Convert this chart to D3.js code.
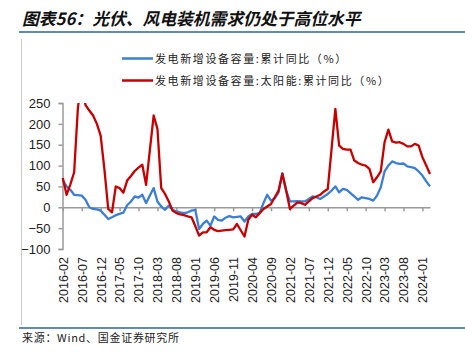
<!DOCTYPE html>
<html><head><meta charset="utf-8">
<script src="https://cdn.jsdelivr.net/npm/d3@7"></script>
<style>body{margin:0;background:#fff;} svg{display:block}</style>
</head><body>
<svg id="c" width="465" height="357"></svg>
<script>
const titleText = "图表56：光伏、风电装机需求仍处于高位水平";
const sourceText = "来源：Wind、国金证券研究所";
const seriesNames = ["发电新增设备容量:累计同比（%）", "发电新增设备容量:太阳能:累计同比（%）"];
const seriesColors = ["#3a7fd5", "#c80000"];
const firstMonth = "2016-02", lastMonth = "2024-03";
const tickLabels = ["2016-02","2016-07","2016-12","2017-05","2017-10","2018-03","2018-08","2019-01","2019-06","2019-11","2020-04","2020-09","2021-02","2021-07","2021-12","2022-05","2022-10","2023-03","2023-08","2024-01"];
const yTicks = [-100, -50, 0, 50, 100, 150, 200, 250];
const totalYoY = [64,50,42,30,29,28,18,0,-4,-5,-8,-18,-28,-24,-19,-16,-13,5,14,26,23,30,10,28,46,14,2,-6,4,-6,-10,-12,-14,-12,-8,-6,-52,-40,-32,-44,-22,-30,-32,-25,-21,-24,-23,-22,-34,-22,-16,-16,-14,10,30,16,22,36,82,40,14,14,15,14,14,20,26,24,20,26,32,40,50,36,44,42,34,26,18,24,22,20,16,28,48,86,100,110,106,104,105,98,96,94,86,76,62,50];
const solarYoY = [70,30,55,84,240,300,245,232,220,200,172,90,-4,-12,50,46,35,64,75,87,95,102,54,137,220,188,46,32,14,-8,-14,-17,-19,-22,-24,-45,-68,-60,-60,-48,-54,-57,-56,-55,-54,-53,-40,-55,-70,-30,-18,-24,-14,-4,2,8,24,40,80,40,-4,4,12,10,6,14,22,26,30,38,44,140,236,148,140,138,138,112,106,102,100,92,60,72,86,156,186,158,155,156,152,146,146,152,148,120,100,80];

const fmt = d3.timeFormat("%Y-%m");
const parse = d3.timeParse("%Y-%m");
const months = d3.timeMonth.range(parse(firstMonth), d3.timeMonth.offset(parse(lastMonth), 1)).map(fmt);

const svg = d3.select("#c");
const x = d3.scalePoint().domain(months).range([62.8, 430]);
const y = d3.scaleLinear().domain([-100, 250]).range([249, 103]);
const axisCol = "#9a9a9a";
const frameCol = "#2f6690";

// title
svg.append("text").attr("x", 22).attr("y", 25).text(titleText)
  .attr("font-family", "Noto Sans CJK SC").attr("font-size", 16.8)
  .attr("font-weight", "bold").attr("font-style", "italic").attr("fill", "#111");
svg.append("line").attr("x1", 19).attr("x2", 465).attr("y1", 32).attr("y2", 32)
  .attr("stroke", frameCol).attr("stroke-width", 1.5);
svg.append("line").attr("x1", 21.5).attr("x2", 21.5).attr("y1", 39).attr("y2", 325)
  .attr("stroke", "#c8c8c8").attr("stroke-width", 1);
svg.append("line").attr("x1", 19).attr("x2", 465).attr("y1", 328).attr("y2", 328)
  .attr("stroke", frameCol).attr("stroke-width", 1.5);
svg.append("text").attr("x", 22).attr("y", 342).text(sourceText)
  .attr("font-family", "Noto Sans CJK SC").attr("font-size", 11).attr("letter-spacing", 0.7).attr("fill", "#222");

// legend
const lg = svg.append("g");
seriesNames.forEach((n, i) => {
  const ly = 58.5 + i * 22;
  lg.append("line").attr("x1", 122).attr("x2", 153).attr("y1", ly).attr("y2", ly)
    .attr("stroke", seriesColors[i]).attr("stroke-width", 2.5);
  lg.append("text").attr("x", 155).attr("y", ly + 4).text(n)
    .attr("font-family", "Noto Sans CJK SC").attr("font-size", 11).attr("letter-spacing", 1.6).attr("fill", "#222");
});

// y axis
const ya = svg.append("g").attr("transform", "translate(62.5,0)")
  .call(d3.axisLeft(y).tickValues(yTicks).tickSize(4).tickPadding(8).tickFormat(d3.format("d")));
ya.select(".domain").attr("stroke", axisCol).attr("stroke-width", 1.5);
ya.selectAll(".tick line").attr("stroke", axisCol).attr("stroke-width", 1.5);
ya.selectAll("text").attr("font-family", "Liberation Sans, Arial").attr("font-size", 13).attr("fill", "#222");

// x axis at zero
const xa = svg.append("g").attr("transform", `translate(0,${y(0)})`)
  .call(d3.axisBottom(x).tickValues(tickLabels).tickSize(4).tickSizeOuter(0).tickFormat(""));
xa.select(".domain").attr("stroke", axisCol).attr("stroke-width", 1.5);
xa.selectAll(".tick line").attr("stroke", axisCol).attr("stroke-width", 1.5);

// x labels at bottom
svg.append("g").selectAll("text").data(tickLabels).join("text")
  .attr("transform", d => `translate(${x(d) + 0.5},257) rotate(-90)`)
  .attr("dy", "0.35em").attr("text-anchor", "end").text(d => d)
  .attr("font-family", "Liberation Sans, Arial").attr("font-size", 12.5).attr("fill", "#222");

// clip
svg.append("clipPath").attr("id", "clip").append("rect")
  .attr("x", 40).attr("y", y(250)).attr("width", 420).attr("height", 200);

const line = d3.line().x((d, i) => x(months[i])).y(d => y(d));
[totalYoY, solarYoY].forEach((s, i) => {
  svg.append("path").datum(s).attr("d", line).attr("fill", "none")
    .attr("clip-path", "url(#clip)")
    .attr("stroke", seriesColors[i]).attr("stroke-width", 2.3).attr("stroke-linejoin", "round");
});
</script>
</body></html>
